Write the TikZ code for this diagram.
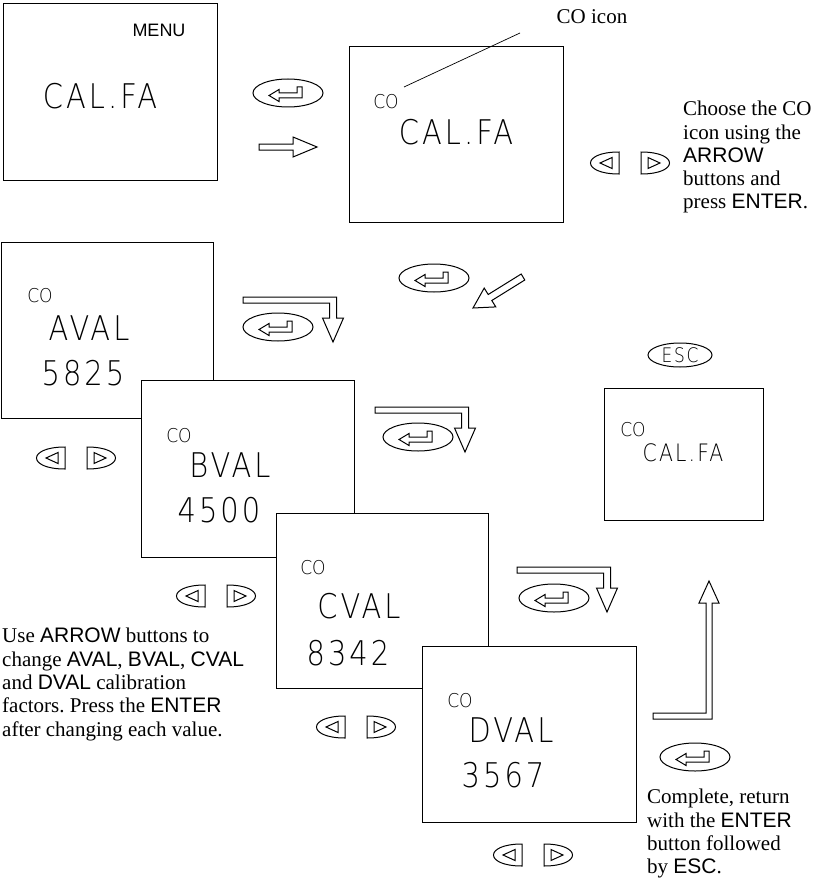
\documentclass[tikz,border=0pt]{standalone}
\usepackage{fontspec}
\setmainfont{Liberation Serif}
\newfontfamily\btnfont{Liberation Sans}
\newfontfamily\lcdfont[LetterSpace=9, FakeStretch=0.85]{DejaVu Sans ExtraLight}
\newfontfamily\cofont[FakeStretch=0.9]{DejaVu Sans ExtraLight}
\newcommand{\btn}[1]{{\btnfont #1}}
\frenchspacing
\usetikzlibrary{shapes.geometric}

\tikzset{
  lcdbox/.style={draw, fill=white, line width=1.3pt, anchor=north west, inner sep=0pt},
  lcdbig/.style={font=\lcdfont\fontsize{34}{34}\selectfont, inner sep=0pt},
  lcdmid/.style={font=\lcdfont\fontsize{24}{24}\selectfont, inner sep=0pt},
  lcdsmall/.style={font=\cofont\fontsize{19}{19}\selectfont, inner sep=0pt},
  note/.style={anchor=north west, align=left, inner sep=0pt, font=\fontsize{21}{23.3}\selectfont},
  hollow/.style={draw, line width=1pt, fill=white, line join=miter},
  keyline/.style={line width=1pt},
  enterkey/.pic={
    \draw[keyline] (0,0) ellipse [x radius=35, y radius=14];
    \draw[keyline] (-19,2.5) -- (-9,-3.5) -- (-9,0) -- (9,0) -- (9,-6) -- (14,-6) -- (14,5) -- (-9,5) -- (-9,8.5) -- cycle;
  },
  leftkey/.pic={
    \draw[keyline] (15,-11) .. controls (-23,-11) and (-23,11) .. (15,11) -- cycle;
    \draw[keyline] (-4,0) -- (8,-5.5) -- (8,5.5) -- cycle;
  },
  rightkey/.pic={
    \draw[keyline] (-15,-11) .. controls (23,-11) and (23,11) .. (-15,11) -- cycle;
    \draw[keyline] (4,0) -- (-8,-5.5) -- (-8,5.5) -- cycle;
  },
  hookarrow/.pic={
    \draw[hollow] (-90,-45) -- (3.5,-45) -- (3.5,-24) -- (10.5,-24) -- (0,0) -- (-10.5,-24) -- (-3.5,-24) -- (-3.5,-39) -- (-90,-39) -- cycle;
  }
}

\begin{document}
\begin{tikzpicture}[x=1pt, y=-1pt]
    \useasboundingbox (0,0) rectangle (815,888);

    % menu screen
    \node[lcdbox, minimum width=214pt, minimum height=177pt] (menu) at (3,3) {};
    \node[font=\btnfont\fontsize{18}{18}\selectfont, inner sep=0pt] (menutag) at (159,30) {MENU};
    \node[lcdbig] (menufa) at (100,96) {CAL.FA};

    % CO screen
    \node[lcdbox, minimum width=214pt, minimum height=176pt] (fa) at (349,46) {};
    \node[lcdsmall] (co2) at (386,102) {CO};
    \node[lcdbig] (fatext) at (456,132) {CAL.FA};
    \coordinate (leadA) at (404,87);
    \coordinate (leadB) at (520,33);
    \draw[line width=0.7pt] (leadA) -- (leadB);
    \node[inner sep=0pt, font=\fontsize{21}{23.3}\selectfont] (coicon) at (592,17) {CO icon};

    % calibration screens
    \node[lcdbox, minimum width=212pt, minimum height=176pt] (aval) at (1,242) {};
    \node[lcdsmall] (coa) at (40,296) {CO};
    \node[lcdbig] (avaltext) at (89,328) {AVAL};
    \node[lcdbig] (avalnum) at (83,373) {5825};

    \node[lcdbox, minimum width=213pt, minimum height=177pt] (bval) at (141,380) {};
    \node[lcdsmall] (cob) at (179,436) {CO};
    \node[lcdbig] (bvaltext) at (230,465) {BVAL};
    \node[lcdbig] (bvalnum) at (219,510) {4500};

    \node[lcdbox, minimum width=212pt, minimum height=175pt] (cval) at (276,513) {};
    \node[lcdsmall] (coc) at (313,568) {CO};
    \node[lcdbig] (cvaltext) at (359,606) {CVAL};
    \node[lcdbig] (cvalnum) at (348,653) {8342};

    \node[lcdbox, minimum width=214pt, minimum height=176pt] (dval) at (422,646) {};
    \node[lcdsmall] (cod) at (460,701) {CO};
    \node[lcdbig] (dvaltext) at (511,730) {DVAL};
    \node[lcdbig] (dvalnum) at (503,775) {3567};

    % result screen
    \node[lcdbox, minimum width=159pt, minimum height=132pt] (done) at (604,388) {};
    \node[lcdsmall] (codone) at (633,430) {CO};
    \node[lcdmid] (donetext) at (683,453) {CAL.FA};

    % keys
    \foreach \p in {(288,93),(434,278),(278,327),(418,437),(554,598),(695,757)}
        \pic at \p {enterkey};
    \foreach \x/\y in {604/163, 50/458, 190/596, 330/727, 507/855}
    {
        \pic at (\x,\y) {leftkey};
        \pic at (\x+52,\y) {rightkey};
    }
    \node[ellipse, draw, keyline, minimum width=64pt, minimum height=24pt, inner sep=0pt,
          font=\lcdfont\fontsize{20}{20}\selectfont] (esc) at (680,355) {ESC};

    % hollow arrows
    \draw[hollow] (259,144) -- (293,144) -- (293,137) -- (317,147) -- (293,157) -- (293,150) -- (259,150) -- cycle;
    \draw[hollow] (521.2,274) -- (488.2,294.5) -- (484.2,288.1) -- (473,308) -- (495.8,306.9) -- (491.8,300.5) -- (524.8,280) -- cycle;
    \foreach \p in {(333,342),(465,452),(607,612)}
        \pic at \p {hookarrow};
    \draw[hollow] (653,713) -- (706,713) -- (706,603) -- (699,603) -- (709,581) -- (719,603) -- (712,603) -- (712,719) -- (653,719) -- cycle;

    % notes
    \node[note] (choose) at (683,101) {Choose the CO\\icon using the\\\btn{ARROW}\\buttons and\\press \btn{ENTER}.};
    \node[note] (usenote) at (2,628) {Use \btn{ARROW} buttons to\\change \btn{AVAL}, \btn{BVAL}, \btn{CVAL}\\and \btn{DVAL} calibration\\factors. Press the \btn{ENTER}\\after changing each value.};
    \node[note] (complete) at (647,789) {Complete, return\\with the \btn{ENTER}\\button followed\\by \btn{ESC}.};
\end{tikzpicture}
\end{document}
